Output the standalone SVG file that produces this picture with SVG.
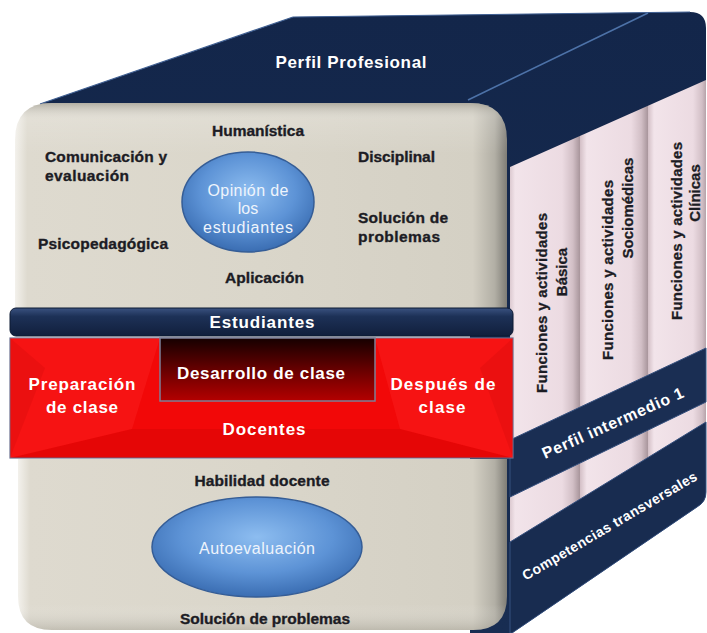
<svg xmlns="http://www.w3.org/2000/svg" width="707" height="633" viewBox="0 0 707 633">
<defs>
<style>
.lbl{font-family:"Liberation Sans",Arial,sans-serif;font-weight:bold;font-size:15.5px;fill:#1c1c24;stroke:#1c1c24;stroke-width:0.35}
.lblc{font-family:"Liberation Sans",Arial,sans-serif;font-weight:bold;font-size:15.5px;fill:#1c1c24;stroke:#1c1c24;stroke-width:0.35;text-anchor:middle}
.wht{font-family:"Liberation Sans",Arial,sans-serif;font-weight:bold;font-size:17px;fill:#ffffff;text-anchor:middle}
.ell{font-family:"Liberation Sans",Arial,sans-serif;font-size:16px;fill:#eef4fc;text-anchor:middle}
.rot{font-family:"Liberation Sans",Arial,sans-serif;font-weight:bold;font-size:15px;fill:#1c1c24;stroke:#1c1c24;stroke-width:0.3;text-anchor:middle}
.band{font-family:"Liberation Sans",Arial,sans-serif;font-weight:bold;fill:#ffffff;text-anchor:middle}
</style>
<linearGradient id="navy" x1="0" y1="0" x2="0" y2="1">
<stop offset="0" stop-color="#13264a"/>
<stop offset="1" stop-color="#182d52"/>
</linearGradient>
<linearGradient id="beige" x1="0" y1="0" x2="1" y2="0">
<stop offset="0" stop-color="#f3f1ec"/>
<stop offset="0.025" stop-color="#dedacf"/>
<stop offset="0.5" stop-color="#dad6ca"/>
<stop offset="0.93" stop-color="#d4d0c4"/>
<stop offset="0.975" stop-color="#b2afa5"/>
<stop offset="1" stop-color="#7f7d76"/>
</linearGradient>
<linearGradient id="beigeTop" x1="0" y1="0" x2="0" y2="1">
<stop offset="0" stop-color="#8f8c80" stop-opacity="0.55"/>
<stop offset="0.08" stop-color="#ffffff" stop-opacity="0.15"/>
<stop offset="0.25" stop-color="#ffffff" stop-opacity="0"/>
<stop offset="1" stop-color="#ffffff" stop-opacity="0"/>
</linearGradient>
<linearGradient id="beigeBot" x1="0" y1="0" x2="0" y2="1">
<stop offset="0" stop-color="#ffffff" stop-opacity="0"/>
<stop offset="0.85" stop-color="#ffffff" stop-opacity="0"/>
<stop offset="1" stop-color="#8f8c80" stop-opacity="0.35"/>
</linearGradient>
<radialGradient id="blue" cx="0.5" cy="0.4" r="0.6">
<stop offset="0" stop-color="#8dbdf0"/>
<stop offset="0.6" stop-color="#5d93d6"/>
<stop offset="1" stop-color="#3a6db2"/>
</radialGradient>
<linearGradient id="estud" x1="0" y1="0" x2="0" y2="1">
<stop offset="0" stop-color="#3a5280"/>
<stop offset="0.3" stop-color="#1d3157"/>
<stop offset="1" stop-color="#111f3c"/>
</linearGradient>
<linearGradient id="desa" x1="0" y1="0" x2="0" y2="1">
<stop offset="0" stop-color="#150000"/>
<stop offset="0.55" stop-color="#6e0000"/>
<stop offset="1" stop-color="#b40000"/>
</linearGradient>
<linearGradient id="pink" x1="0" y1="0" x2="1" y2="0">
<stop offset="0" stop-color="#d3bfc6"/>
<stop offset="0.1" stop-color="#f2e4ea"/>
<stop offset="0.75" stop-color="#ecdbe2"/>
<stop offset="0.9" stop-color="#d2bfc6"/>
<stop offset="1" stop-color="#a8959b"/>
</linearGradient>
<clipPath id="pinkClip">
<path d="M510,167 L706,80 L706,430 L510,550 Z"/>
</clipPath>
</defs>

<g id="cube-side">
<path d="M40,104 L293,17 L690,12 Q706,12 706,28 L706,492 Q706,502 697,507 L512,633 L470,633 L470,110 L40,110 Z" fill="url(#navy)"/>
<line x1="40" y1="104" x2="293" y2="17" stroke="#3f5f92" stroke-width="1.2"/>
<line x1="293" y1="17" x2="690" y2="12" stroke="#3f5f92" stroke-width="1"/>
<line x1="648" y1="13" x2="468" y2="100" stroke="#4d72a8" stroke-width="1.6"/>
<g clip-path="url(#pinkClip)">
<rect x="508" y="60" width="72" height="500" fill="url(#pink)"/>
<rect x="580" y="60" width="68" height="500" fill="url(#pink)"/>
<rect x="648" y="60" width="60" height="500" fill="url(#pink)"/>
</g>
<path d="M510,440 L706,348 L706,402 L510,497 Z" fill="#1a2e53" stroke="#35507e" stroke-width="1"/>
<path d="M510,542 L706,422 L706,492 Q706,502 697,507 L512,633 L510,633 Z" fill="#182c50" stroke="#35507e" stroke-width="1"/>
<text class="rot" transform="translate(547,303) rotate(-90)" textLength="180">Funciones y actividades</text>
<text class="rot" transform="translate(567,272) rotate(-90)">Básica</text>
<text class="rot" transform="translate(613,270) rotate(-90)" textLength="180">Funciones y actividades</text>
<text class="rot" transform="translate(633,208) rotate(-90)">Sociomédicas</text>
<text class="rot" transform="translate(682,231) rotate(-90)" textLength="178">Funciones y actividades</text>
<text class="rot" transform="translate(700,193) rotate(-90)">Clínicas</text>
<text class="band" font-size="16" transform="translate(615,428) rotate(-24)" textLength="153">Perfil intermedio 1</text>
<text class="band" font-size="14" transform="translate(612,530) rotate(-30.5)" textLength="200">Competencias transversales</text>
</g>

<g id="cube-top">
<text class="wht" x="351" y="68" font-size="18" textLength="151">Perfil Profesional</text>
</g>

<g id="upper-panel">
<path d="M15,140 Q15,103 52,103 L470,103 Q507,103 507,140 L507,309 L15,309 Z" fill="url(#beige)"/>
<path d="M15,140 Q15,103 52,103 L470,103 Q507,103 507,140 L507,309 L15,309 Z" fill="url(#beigeTop)"/>
<text class="lbl" x="212" y="136" textLength="92">Humanística</text>
<text class="lbl" x="45" y="162" textLength="122">Comunicación y</text>
<text class="lbl" x="45" y="181" textLength="84">evaluación</text>
<text class="lbl" x="358" y="162" textLength="77">Disciplinal</text>
<text class="lbl" x="358" y="223" textLength="90">Solución de</text>
<text class="lbl" x="358" y="242" textLength="82">problemas</text>
<text class="lbl" x="38" y="249" textLength="130">Psicopedagógica</text>
<text class="lbl" x="225" y="283" textLength="79">Aplicación</text>
<g id="opinion">
<ellipse cx="248" cy="202" rx="66" ry="50" fill="url(#blue)" stroke="#355d96" stroke-width="1.5"/>
<text class="ell" x="248" y="196" textLength="81">Opinión de</text>
<text class="ell" x="248" y="214">los</text>
<text class="ell" x="248" y="233" textLength="90">estudiantes</text>
</g>
</g>

<g id="estudiantes">
<rect x="10" y="308" width="503" height="28" rx="6" fill="url(#estud)" stroke="#0d1a33" stroke-width="1"/>
<text class="wht" x="262" y="328" textLength="105">Estudiantes</text>
</g>

<g id="docentes">
<rect x="10" y="338" width="503" height="120" fill="#f20808" stroke="#6b6f8f" stroke-width="1.2"/>
<path d="M10,338 L160,338 L132,429 L10,458 Z" fill="#ff3030" opacity="0.3"/>
<path d="M375,338 L513,338 L513,458 L400,429 Z" fill="#ff3030" opacity="0.3"/>
<path d="M10,458 L132,429 L400,429 L513,458 Z" fill="#c00000" opacity="0.25"/>
<path d="M10,338 L45,368 L10,458 Z" fill="#b00000" opacity="0.15"/>
<path d="M513,338 L480,368 L513,458 Z" fill="#b00000" opacity="0.15"/>
<rect x="160" y="338" width="215" height="63" fill="url(#desa)" stroke="#7d7f96" stroke-width="1.5"/>
<text class="wht" x="261" y="379" textLength="168">Desarrollo de clase</text>
<text class="wht" x="82" y="390" textLength="107">Preparación</text>
<text class="wht" x="82" y="413" textLength="72">de clase</text>
<text class="wht" x="443" y="390" textLength="105">Después de</text>
<text class="wht" x="442" y="413" textLength="47">clase</text>
<text class="wht" x="264" y="435" textLength="83">Docentes</text>
</g>

<g id="lower-panel">
<path d="M18,459 L507,459 L507,596 Q507,630 473,630 L52,630 Q18,630 18,596 Z" fill="url(#beige)"/>
<path d="M18,459 L507,459 L507,596 Q507,630 473,630 L52,630 Q18,630 18,596 Z" fill="url(#beigeBot)"/>
<text class="lblc" x="262" y="486" textLength="135">Habilidad docente</text>
<g id="autoevaluacion">
<ellipse cx="257" cy="547" rx="105" ry="50" fill="url(#blue)" stroke="#355d96" stroke-width="1.5"/>
<text class="ell" x="257" y="554" textLength="116">Autoevaluación</text>
</g>
<text class="lblc" x="265" y="624" textLength="170">Solución de problemas</text>
</g>

<g id="connectors"/>
</svg>
